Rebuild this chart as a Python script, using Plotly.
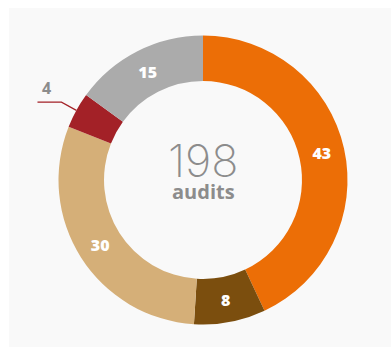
import math
import plotly.graph_objects as go

# Audit outcome breakdown
categories = ["A", "B", "C", "D", "E"]
values = [43, 8, 30, 4, 15]
colors = ["#EC6E06", "#7B4E0E", "#D5AF78", "#A32127", "#ABABAB"]
total_audits = 198
center_caption = "audits"

W, H = 391, 348
cx, cy, R = 203.0, 180.0, 144.5   # pie centre / radius in px (from top-left)
HOLE = 0.685


def px(x):
    return x / W


def py(y):
    return (H - y) / H


# small slices get an outside label with a leader line
inside_text = [str(v) if v >= 5 else "" for v in values]

fig = go.Figure(
    go.Pie(
        labels=categories,
        values=values,
        text=inside_text,
        textinfo="text",
        textposition="inside",
        insidetextorientation="horizontal",
        sort=False,
        direction="clockwise",
        rotation=0,
        hole=HOLE,
        marker=dict(colors=colors, line=dict(width=0)),
        textfont=dict(family="Open Sans", size=16, color="white", weight=800),
        hoverinfo="label+value",
        showlegend=False,
        domain=dict(x=[px(cx - R), px(cx + R)], y=[py(cy + R), py(cy - R)]),
    )
)

shapes = [
    dict(type="rect", xref="paper", yref="paper", layer="below",
         x0=px(9), x1=1.0, y0=py(347), y1=py(8),
         fillcolor="#F9F9F9", line=dict(width=0)),
]
annotations = [
    dict(text=str(total_audits), x=px(cx), y=py(160), xref="paper", yref="paper",
         showarrow=False, font=dict(family="Inter", size=45, color="#8C8C8C", weight=200)),
    dict(text=f"<b>{center_caption}</b>", x=px(cx), y=py(191), xref="paper", yref="paper",
         showarrow=False, font=dict(family="Open Sans", size=20, color="#8C8C8C", weight=800)),
]

# leader lines for slices labelled outside
tot = sum(values)
cum = 0
for v, c in zip(values, colors):
    mid = (cum + v / 2) / tot * 2 * math.pi
    cum += v
    if v >= 5:
        continue
    sx, sy = cx + R * math.sin(mid), cy - R * math.cos(mid)
    ex, ey = cx + (R + 17) * math.sin(mid), cy - (R + 17) * math.cos(mid)
    left = math.sin(mid) < 0
    hx = ex - 24 if left else ex + 24
    shapes.append(dict(type="path", xref="paper", yref="paper",
                       path=f"M {px(sx)} {py(sy)} L {px(ex)} {py(ey)} L {px(hx)} {py(ey)}",
                       line=dict(color=c, width=1.2)))
    annotations.append(dict(text=f"<b>{v}</b>", x=px(hx + 3 if left else hx - 3), y=py(ey - 1),
                            xref="paper", yref="paper", yanchor="bottom",
                            xanchor="left" if left else "right", showarrow=False,
                            font=dict(family="Open Sans", size=16, color="#8C8C8C", weight=800)))

fig.update_layout(
    width=W, height=H,
    margin=dict(l=0, r=0, t=0, b=0),
    paper_bgcolor="white",
    shapes=shapes,
    annotations=annotations,
)

fig.write_html("out.html")
